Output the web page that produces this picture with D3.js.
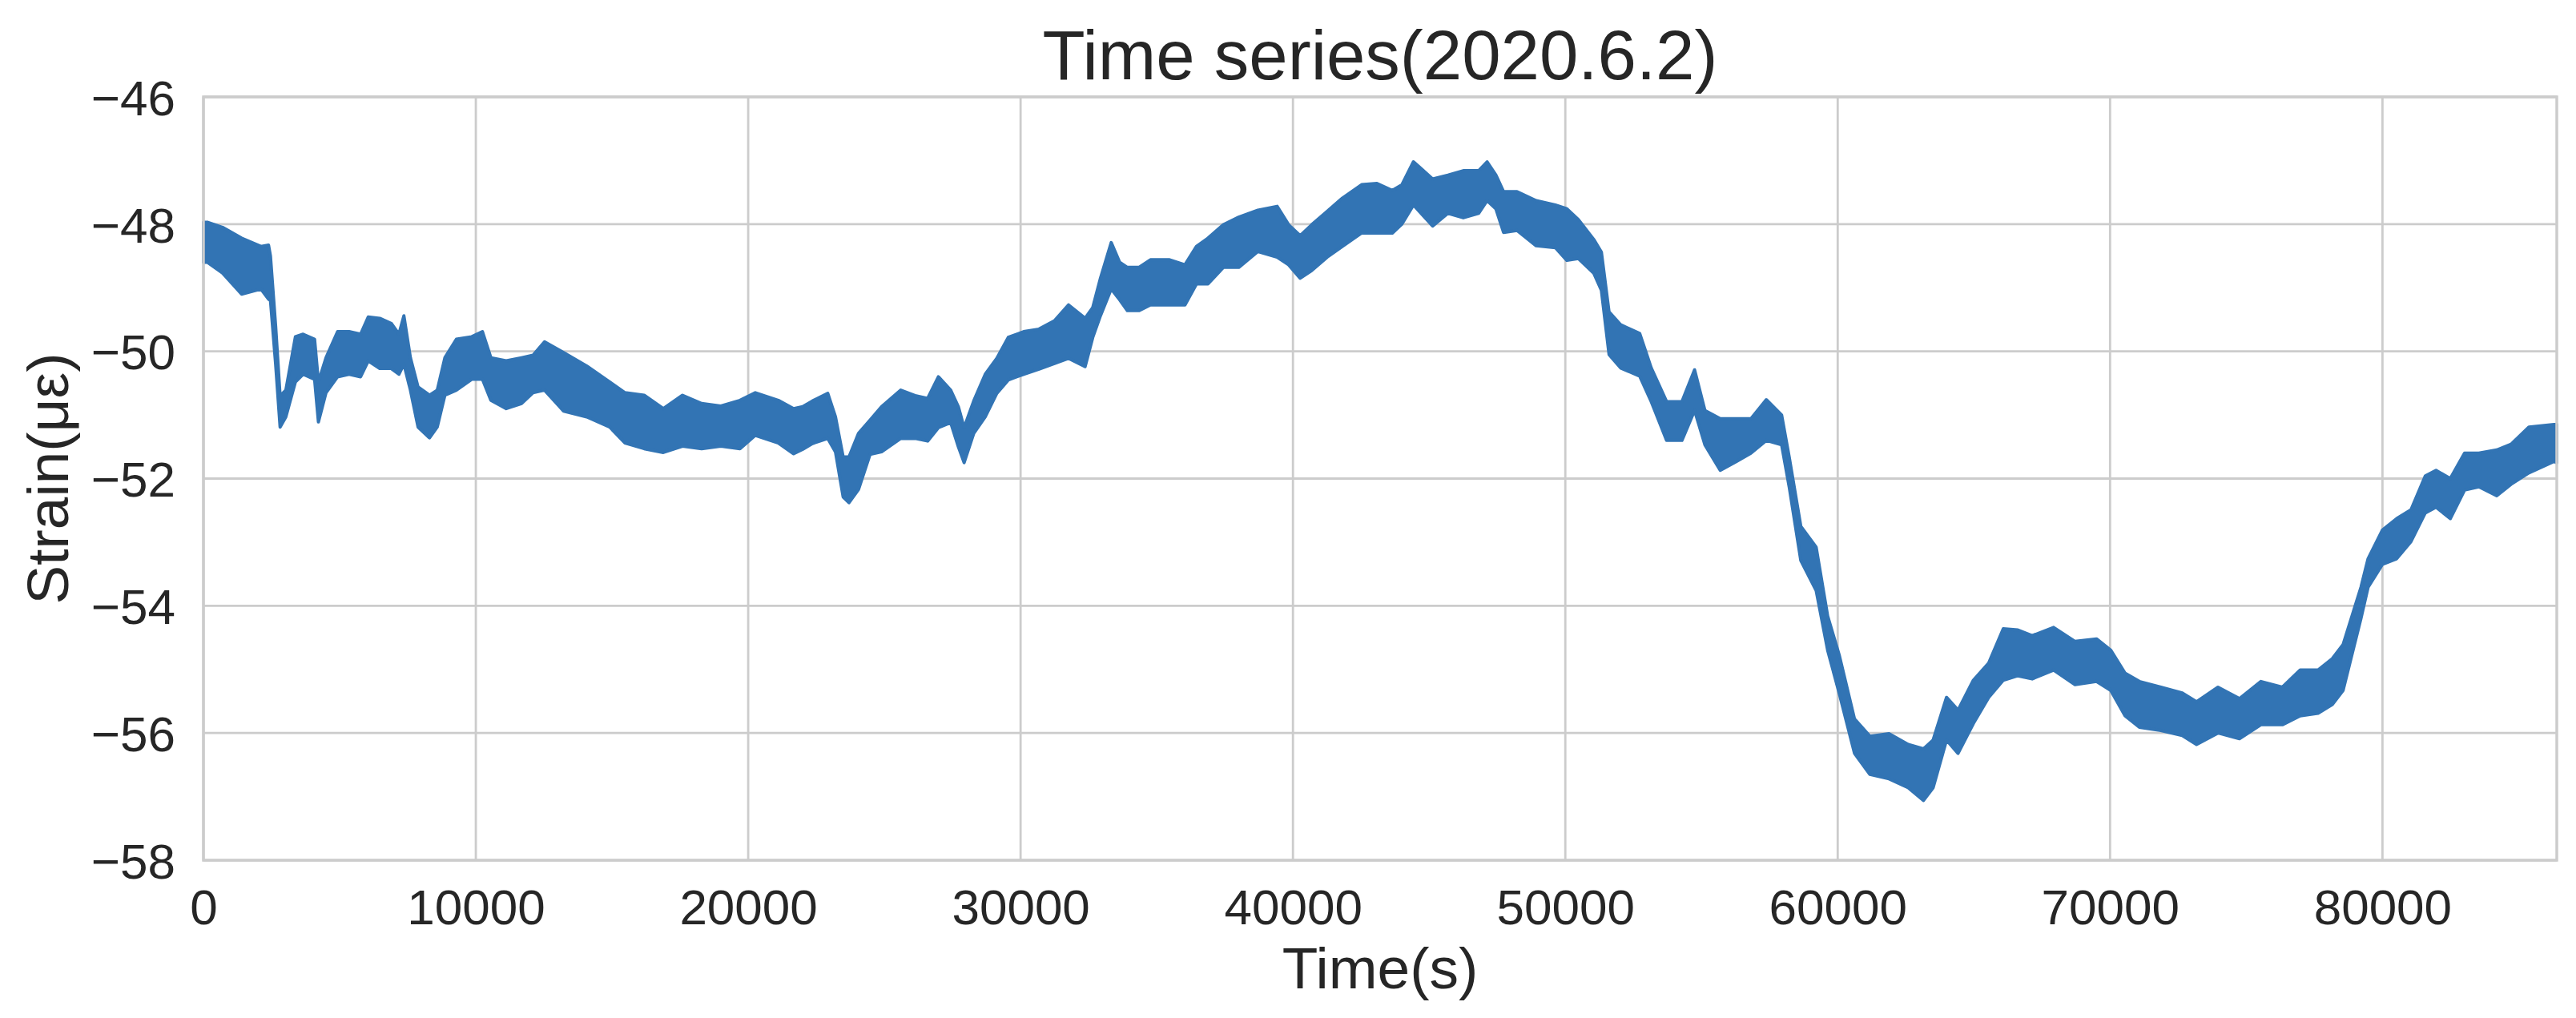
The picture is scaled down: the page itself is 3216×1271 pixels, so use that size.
<!DOCTYPE html>
<html>
<head>
<meta charset="utf-8">
<script src="https://cdn.jsdelivr.net/npm/d3@7"></script>
<style>
  html, body { margin: 0; padding: 0; background: #ffffff; }
  svg { display: block; }
</style>
</head>
<body>
<div id="chart"></div>
<script>
const WIDTH = 3216;
const HEIGHT = 1271;
const MARGIN = { top: 121, right: 24, bottom: 197, left: 254 };
const FONT = "'Liberation Sans', Arial, Helvetica, sans-serif";
const TEXT_COLOR = "#262626";
const GRID_COLOR = "#cccccc";
const LINE_COLOR = "#3274b4";

const TITLE = "Time series(2020.6.2)";
const X_LABEL = "Time(s)";
const Y_LABEL = "Strain(με)";

const X_TICKS = [0, 10000, 20000, 30000, 40000, 50000, 60000, 70000, 80000];
const Y_TICKS = [-58, -56, -54, -52, -50, -48, -46];

// time in seconds
const times = [
  0, 140, 700, 1400, 2110, 2390, 2460, 2650, 2814, 3025, 3377, 3658, 4080, 4221,
  4500, 4925, 5347, 5769, 6050, 6472, 6894, 7176, 7359, 7598, 7879, 8301, 8583,
  8864, 9286, 9849, 10243, 10553, 11115, 11678, 12100, 12522, 13226, 14070,
  14914, 15477, 16181, 16884, 17588, 18291, 18995, 19698, 20261, 21105, 21668,
  22000, 22358, 22922, 23204, 23486, 23700, 24050, 24473, 24896, 25601, 26165,
  26588, 26983, 27434, 27716, 27927, 28280, 28703, 29126, 29549, 30113, 30677,
  31241, 31763, 32369, 32651, 32933, 33328, 33638, 33920, 34343, 34766, 35471,
  36035, 36458, 36881, 37445, 38009, 38714, 39419, 39842, 40265, 40688, 41252,
  41816, 42521, 43085, 43649,
  44000, 44424, 45128, 45691, 46254, 46817, 47128, 47452, 47733, 48226, 48930,
  49634, 50056, 50479, 51042, 51324, 51605, 52027, 52731, 53154, 53717, 54280,
  54745, 55125, 55688, 56252, 56815, 57378, 57941, 58223, 58646, 59209, 59631,
  60053, 60617, 61180, 61884, 62588, 63151, 63503, 63996, 64418, 64981, 65544,
  66079, 66615, 67140, 67927, 68714, 69501, 70026, 70551, 71076, 71863, 72650,
  73175, 73962, 74749, 75537, 76324, 76980, 77636, 78161, 78554, 78948, 79210,
  79472, 79997, 80522, 81047, 81572, 81966, 82490, 83015, 83540, 84196, 84721,
  85377, 86295, 86400,
];

// upper edge of the noisy strain band (με)
const strainHigh = [
  -47.97, -47.97, -48.05, -48.22, -48.35, -48.33, -48.5, -49.6, -50.7, -50.61,
  -49.77, -49.73, -49.81, -50.48, -50.1, -49.69, -49.69, -49.73, -49.46, -49.48,
  -49.56, -49.73, -49.44, -50.1, -50.56, -50.69, -50.61, -50.1, -49.81, -49.77,
  -49.69, -50.1, -50.15, -50.1, -50.06, -49.85, -50.02, -50.23, -50.48, -50.65,
  -50.69, -50.9, -50.69, -50.82, -50.86, -50.77, -50.65, -50.77, -50.9,
  -50.87, -50.78, -50.66, -51.03, -51.66, -51.66, -51.29, -51.08, -50.87, -50.61,
  -50.7, -50.74, -50.4, -50.61, -50.87, -51.2, -50.78, -50.36, -50.11, -49.78,
  -49.69, -49.65, -49.52, -49.27, -49.48, -49.31, -48.85, -48.29, -48.6, -48.68,
  -48.68, -48.56, -48.56, -48.64, -48.35, -48.22, -48.01, -47.89, -47.78, -47.72,
  -48.01, -48.18, -48.01, -47.8, -47.59, -47.38, -47.36, -47.47,
  -47.38, -47.02, -47.29, -47.23, -47.16, -47.16, -47.02, -47.23, -47.49, -47.49,
  -47.63, -47.7, -47.76, -47.93, -48.24, -48.44, -49.38, -49.58, -49.72, -50.26,
  -50.79, -50.79, -50.29, -50.93, -51.06, -51.06, -51.06, -50.76, -51.0, -51.67,
  -52.75, -53.08, -54.16, -54.77, -55.78, -56.05, -56.01, -56.18, -56.25, -56.11,
  -55.44, -55.64, -55.17, -54.9, -54.36, -54.38, -54.47, -54.34, -54.56, -54.52,
  -54.7, -55.06, -55.19, -55.28, -55.37, -55.51, -55.28, -55.46, -55.19, -55.28,
  -55.01, -55.01, -54.83, -54.61, -54.07, -53.71, -53.26, -52.81, -52.63, -52.49,
  -51.96, -51.87, -52.0, -51.6, -51.6, -51.55, -51.46, -51.19, -51.15, -51.15,
];

// lower edge of the noisy strain band (με)
const strainLow = [
  -48.6, -48.6, -48.77, -49.1, -49.02, -49.18, -49.2, -50.2, -51.19, -51.03,
  -50.48, -50.36, -50.44, -51.11, -50.65, -50.4, -50.36, -50.4, -50.15, -50.27,
  -50.27, -50.36, -50.2, -50.61, -51.19, -51.36, -51.19, -50.69, -50.61, -50.44,
  -50.44, -50.77, -50.9, -50.82, -50.65, -50.61, -50.94, -51.03, -51.19, -51.44,
  -51.53, -51.59, -51.49, -51.53, -51.49, -51.53, -51.32, -51.44, -51.61,
  -51.54, -51.45, -51.37, -51.58, -52.29, -52.38, -52.17, -51.62, -51.58, -51.37,
  -51.37, -51.41, -51.2, -51.12, -51.5, -51.75, -51.29, -51.03, -50.66, -50.45,
  -50.36, -50.28, -50.19, -50.11, -50.24, -49.78, -49.44, -49.02, -49.19, -49.36,
  -49.36, -49.27, -49.27, -49.27, -48.94, -48.94, -48.68, -48.68, -48.43, -48.52,
  -48.64, -48.85, -48.73, -48.52, -48.35, -48.14, -48.14, -48.14,
  -48.0, -47.7, -48.03, -47.83, -47.9, -47.83, -47.63, -47.76, -48.13, -48.1,
  -48.34, -48.37, -48.57, -48.54, -48.77, -49.04, -50.05, -50.26, -50.39, -50.79,
  -51.4, -51.4, -50.93, -51.47, -51.87, -51.74, -51.6, -51.4, -51.47, -52.14,
  -53.29, -53.76, -54.7, -55.37, -56.32, -56.65, -56.72, -56.86, -57.06, -56.86,
  -56.11, -56.32, -55.85, -55.44, -55.17, -55.1, -55.15, -55.01, -55.24, -55.19,
  -55.33, -55.73, -55.91, -55.96, -56.04, -56.18, -56.0, -56.09, -55.87, -55.87,
  -55.73, -55.69, -55.55, -55.33, -54.65, -54.2, -53.71, -53.35, -53.26, -52.99,
  -52.54, -52.45, -52.63, -52.18, -52.13, -52.27, -52.09, -51.91, -51.73, -51.75,
];

const band = times.map((t, i) => ({ t: t, hi: strainHigh[i], lo: strainLow[i] }));

const svg = d3
  .select("#chart")
  .append("svg")
  .attr("width", WIDTH)
  .attr("height", HEIGHT)
  .style("font-family", FONT);

const xScale = d3
  .scaleLinear()
  .domain([0, 86400])
  .range([MARGIN.left, WIDTH - MARGIN.right]);

const yScale = d3
  .scaleLinear()
  .domain([-58, -46])
  .range([HEIGHT - MARGIN.bottom, MARGIN.top]);

// grid
svg
  .append("g")
  .selectAll("line.vgrid")
  .data(X_TICKS)
  .join("line")
  .attr("x1", (d) => xScale(d))
  .attr("x2", (d) => xScale(d))
  .attr("y1", MARGIN.top)
  .attr("y2", HEIGHT - MARGIN.bottom)
  .attr("stroke", GRID_COLOR)
  .attr("stroke-width", 2.8);

svg
  .append("g")
  .selectAll("line.hgrid")
  .data(Y_TICKS)
  .join("line")
  .attr("x1", MARGIN.left)
  .attr("x2", WIDTH - MARGIN.right)
  .attr("y1", (d) => yScale(d))
  .attr("y2", (d) => yScale(d))
  .attr("stroke", GRID_COLOR)
  .attr("stroke-width", 2.8);

// strain band
const area = d3
  .area()
  .x((d) => xScale(d.t))
  .y0((d) => yScale(d.lo))
  .y1((d) => yScale(d.hi));

svg
  .append("path")
  .datum(band)
  .attr("d", area)
  .attr("fill", LINE_COLOR)
  .attr("stroke", LINE_COLOR)
  .attr("stroke-width", 4)
  .attr("stroke-linejoin", "round");

// frame
svg
  .append("rect")
  .attr("x", MARGIN.left)
  .attr("y", MARGIN.top)
  .attr("width", WIDTH - MARGIN.left - MARGIN.right)
  .attr("height", HEIGHT - MARGIN.top - MARGIN.bottom)
  .attr("fill", "none")
  .attr("stroke", GRID_COLOR)
  .attr("stroke-width", 3.5);

// axes
const xAxis = svg
  .append("g")
  .attr("transform", `translate(0, ${HEIGHT - MARGIN.bottom})`)
  .call(d3.axisBottom(xScale).tickValues(X_TICKS).tickSize(0).tickPadding(80).tickFormat(d3.format("d")));

const yAxis = svg
  .append("g")
  .attr("transform", `translate(${MARGIN.left}, 0)`)
  .call(d3.axisLeft(yScale).tickValues(Y_TICKS).tickSize(0).tickPadding(35).tickFormat(d3.format("d")));

[xAxis, yAxis].forEach((g) => {
  g.select(".domain").remove();
  g.selectAll("text")
    .attr("fill", TEXT_COLOR)
    .attr("font-family", FONT)
    .attr("font-size", "62px");
});
xAxis.selectAll("text").attr("dy", null).attr("y", 0).attr("transform", "translate(0, 80)");
yAxis.selectAll("text").attr("dy", "0.36em");

// titles
svg
  .append("text")
  .attr("x", (MARGIN.left + WIDTH - MARGIN.right) / 2)
  .attr("y", 99)
  .attr("text-anchor", "middle")
  .attr("fill", TEXT_COLOR)
  .attr("font-size", "87px")
  .text(TITLE);

svg
  .append("text")
  .attr("x", (MARGIN.left + WIDTH - MARGIN.right) / 2)
  .attr("y", 1234)
  .attr("text-anchor", "middle")
  .attr("fill", TEXT_COLOR)
  .attr("font-size", "73px")
  .text(X_LABEL);

svg
  .append("text")
  .attr("transform", `translate(85, ${(MARGIN.top + HEIGHT - MARGIN.bottom) / 2}) rotate(-90)`)
  .attr("text-anchor", "middle")
  .attr("fill", TEXT_COLOR)
  .attr("font-size", "73px")
  .text(Y_LABEL);
</script>
</body>
</html>
